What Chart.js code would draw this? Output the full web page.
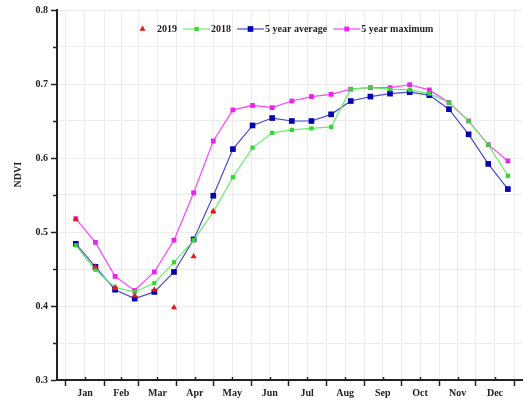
<!DOCTYPE html>
<html>
<head>
<meta charset="utf-8">
<script src="https://cdn.jsdelivr.net/npm/chart.js@4.4.1/dist/chart.umd.min.js"></script>
<style>
  html, body { margin: 0; padding: 0; background: #fff; }
  #wrap { width: 529px; height: 402px; }
</style>
</head>
<body>
<div id="wrap"><canvas id="ndvi-chart"></canvas></div>
<script>
// day of year of each 16-day composite
const days = [8, 24, 40, 56, 72, 88, 104, 120, 136, 152, 168, 184, 200, 216, 232, 248, 264, 280, 296, 312, 328, 344, 360];

const ndvi2019 = [0.517, 0.453, 0.425, 0.414, 0.422, 0.398, 0.467, 0.528];
const ndvi2018 = [0.482, 0.449, 0.425, 0.419, 0.431, 0.459, 0.489, 0.527, 0.574, 0.614, 0.634, 0.638, 0.640, 0.642,
                  0.693, 0.695, 0.693, 0.692, 0.687, 0.675, 0.650, 0.618, 0.576];
const avg5 = [0.484, 0.453, 0.422, 0.410, 0.419, 0.446, 0.490, 0.549, 0.612, 0.644, 0.654, 0.650, 0.650, 0.659,
              0.677, 0.683, 0.687, 0.689, 0.685, 0.666, 0.632, 0.592, 0.558];
const max5 = [0.518, 0.486, 0.440, 0.421, 0.446, 0.489, 0.553, 0.623, 0.665, 0.671, 0.668, 0.677, 0.683, 0.686,
              0.693, 0.695, 0.695, 0.699, 0.692, 0.675, 0.650, 0.618, 0.596];

const monthNames = ['Jan', 'Feb', 'Mar', 'Apr', 'May', 'Jun', 'Jul', 'Aug', 'Sep', 'Oct', 'Nov', 'Dec'];
const monthStarts = [0, 31, 59, 90, 120, 151, 181, 212, 243, 273, 304, 334, 365];
const monthMids = monthNames.map((m, i) => (monthStarts[i] + monthStarts[i + 1]) / 2);
const yMinor = [0.35, 0.45, 0.55, 0.65, 0.75];

const FONT = { family: '"Liberation Serif", "Times New Roman", serif', size: 10, weight: 'bold' };
const CSSFONT = 'bold 10px "Liberation Serif", serif';
const pts = arr => arr.map((v, i) => ({ x: days[i], y: v }));
const isMinorY = v => Math.round(v * 100) % 10 !== 0;

// legend inside the plot, axis title, short ticks
const extras = {
  id: 'extras',
  beforeDatasetsDraw(chart) {
    const ctx = chart.ctx, xs = chart.scales.x, ys = chart.scales.y;
    ctx.save();
    ctx.strokeStyle = '#222';
    ctx.lineWidth = 1.5;
    monthMids.forEach(m => {
      const px = Math.round(xs.getPixelForValue(m)) + 0.5;
      ctx.beginPath();
      ctx.moveTo(px, xs.top);
      ctx.lineTo(px, xs.top - 3);
      ctx.stroke();
    });
    yMinor.forEach(v => {
      const py = Math.round(ys.getPixelForValue(v)) + 0.5;
      ctx.beginPath();
      ctx.moveTo(ys.right, py);
      ctx.lineTo(ys.right - 4, py);
      ctx.stroke();
    });
    ctx.restore();
  },
  afterDraw(chart) {
    const ctx = chart.ctx, area = chart.chartArea;
    ctx.save();
    ctx.font = CSSFONT;
    ctx.fillStyle = '#222';
    ctx.textBaseline = 'middle';

    // y title
    ctx.save();
    ctx.translate(18, area.top + (area.bottom - area.top) * 0.445);
    ctx.rotate(-Math.PI / 2);
    ctx.textAlign = 'center';
    ctx.fillText('NDVI', 0, 0);
    ctx.restore();

    // legend
    const iconW = 27, gap = 1, sep = 6;
    let x = area.left + 72;
    const y = area.top + 19;
    chart.data.datasets.forEach(ds => {
      const cx = x + iconW / 2;
      if (ds.showLine !== false) {
        ctx.strokeStyle = ds.borderColor;
        ctx.lineWidth = ds.borderWidth;
        ctx.beginPath();
        ctx.moveTo(x, y);
        ctx.lineTo(x + iconW, y);
        ctx.stroke();
      }
      ctx.fillStyle = ds.pointBackgroundColor;
      ctx.strokeStyle = ds.pointBackgroundColor;
      Chart.helpers.drawPoint(ctx, { pointStyle: ds.pointStyle, radius: ds.pointRadius, borderWidth: 0, rotation: 0 }, cx, y);
      ctx.fillStyle = '#222';
      ctx.textAlign = 'left';
      ctx.fillText(ds.label, x + iconW + gap, y + 0.5);
      x += iconW + gap + ctx.measureText(ds.label).width + sep;
    });
    ctx.restore();
  }
};

new Chart(document.getElementById('ndvi-chart'), {
  type: 'line',
  data: {
    datasets: [
      {
        label: '2019',
        data: pts(ndvi2019),
        showLine: false,
        pointStyle: 'triangle',
        pointRadius: 3.5,
        pointBackgroundColor: '#e8161b',
        pointBorderColor: '#e8161b',
        pointBorderWidth: 0,
        borderColor: '#e8161b'
      },
      {
        label: '2018',
        data: pts(ndvi2018),
        borderColor: '#66ee66',
        borderWidth: 1.2,
        pointStyle: 'rect',
        pointRadius: 3,
        pointBackgroundColor: '#33d633',
        pointBorderColor: '#33d633',
        pointBorderWidth: 0
      },
      {
        label: '5 year average',
        data: pts(avg5),
        borderColor: '#4a4ad2',
        borderWidth: 1.2,
        pointStyle: 'rect',
        pointRadius: 4,
        pointBackgroundColor: '#0000b0',
        pointBorderColor: '#0000b0',
        pointBorderWidth: 0
      },
      {
        label: '5 year maximum',
        data: pts(max5),
        borderColor: '#ff44ff',
        borderWidth: 1.2,
        pointStyle: 'rect',
        pointRadius: 3.4,
        pointBackgroundColor: '#ee22ee',
        pointBorderColor: '#ee22ee',
        pointBorderWidth: 0
      }
    ]
  },
  options: {
    responsive: true,
    maintainAspectRatio: false,
    animation: false,
    layout: { padding: { top: 10, right: 7, left: 8, bottom: 0 } },
    elements: { line: { tension: 0 } },
    plugins: {
      legend: { display: false },
      tooltip: { enabled: false }
    },
    scales: {
      x: {
        type: 'linear',
        min: -7.3,
        max: 371.5,
        afterBuildTicks: s => {
          s.ticks = monthStarts.concat(monthMids).sort((a, b) => a - b).map(v => ({ value: v }));
        },
        afterFit: s => { s.height = 22; },
        ticks: {
          autoSkip: false,
          maxRotation: 0,
          padding: 1,
          color: '#222',
          font: FONT,
          callback: v => {
            const i = monthMids.indexOf(v);
            return i >= 0 ? monthNames[i] : '';
          }
        },
        grid: {
          color: '#ececec',
          tickLength: 6,
          tickWidth: 1.5,
          tickColor: c => (c.tick && monthMids.indexOf(c.tick.value) >= 0) ? 'rgba(0,0,0,0)' : '#222'
        },
        border: { color: '#222', width: 2 }
      },
      y: {
        min: 0.3,
        max: 0.8,
        afterFit: s => { s.width = 49; },
        ticks: {
          stepSize: 0.05,
          padding: 3,
          color: '#222',
          font: FONT,
          callback: v => isMinorY(v) ? '' : v.toFixed(1)
        },
        grid: {
          color: '#ececec',
          tickLength: 6,
          tickWidth: 1.5,
          tickColor: c => (c.tick && isMinorY(c.tick.value)) ? 'rgba(0,0,0,0)' : '#222'
        },
        border: { color: '#222', width: 2 }
      }
    }
  },
  plugins: [extras]
});
</script>
</body>
</html>
